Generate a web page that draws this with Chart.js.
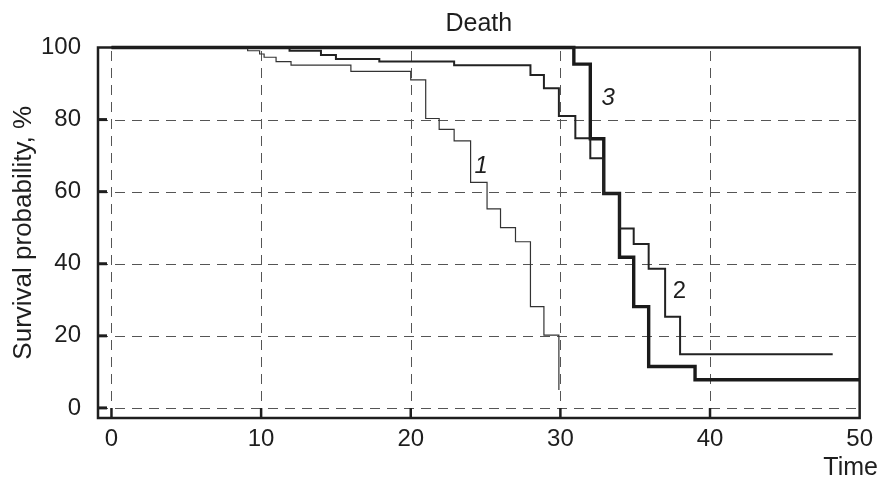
<!DOCTYPE html>
<html>
<head>
<meta charset="utf-8">
<script src="https://cdn.jsdelivr.net/npm/chart.js@4.4.0/dist/chart.umd.min.js"></script>
<style>
html,body{margin:0;padding:0;background:#fff;}
#wrap{width:880px;height:478px;}
</style>
</head>
<body>
<div id="wrap"><canvas id="c" width="880" height="478"></canvas></div>
<script>
// ---- data ----
const xTicks = [0, 10, 20, 30, 40, 50];
const yTicks = [0, 20, 40, 60, 80, 100];

const curve1Time = [0, 9.1, 9.9, 10.2, 11.0, 12.0, 16.0, 20.0, 21.0, 21.9, 22.9, 24.0, 25.1, 26.0, 27.0, 28.0, 28.9, 29.9];
const curve1Surv = [100, 99.1, 98.2, 97.3, 96.1, 95.1, 93.4, 91.0, 80.3, 77.3, 74.1, 62.6, 55.2, 50.0, 46.1, 28.1, 20.2, 5];

const curve2Time = [0, 11.9, 14.0, 15.0, 17.9, 22.9, 28.0, 28.9, 29.9, 31.0, 32.0, 32.9, 33.95, 34.9, 35.9, 37.0, 38.0, 48.2];
const curve2Surv = [100, 99.1, 97.9, 96.8, 96.1, 95.1, 92.4, 88.7, 81.0, 74.8, 69.3, 59.5, 49.8, 45.5, 38.6, 25.3, 14.9, 14.9];

const curve3Time = [0, 30.9, 32.0, 32.9, 33.95, 34.9, 35.9, 39.0, 50];
const curve3Surv = [100, 95.4, 74.7, 59.5, 41.8, 28.1, 11.5, 7.8, 7.8];

const curveNames = ['1', '2', '3'];
const curveLabelTime = [24.7, 37.95, 33.2];
const curveLabelSurv = [67.1, 32.2, 85.9];

// ---- styling ----
const FONT = "'Liberation Sans', Arial, Helvetica, sans-serif";
const INK = '#1e1e1e';

function pts(t, v) { return t.map((x, i) => ({x: x, y: v[i]})); }

const gridPlugin = {
  id: 'gridPlugin',
  beforeDatasetsDraw(chart) {
    const {ctx, chartArea: a, scales: {x, y}} = chart;
    ctx.save();
    ctx.strokeStyle = '#555';
    ctx.lineWidth = 1;
    ctx.setLineDash([10, 7]);
    xTicks.forEach(v => {
      if (v >= 50) return;
      const px = Math.round(x.getPixelForValue(v)) + 0.5;
      ctx.beginPath(); ctx.moveTo(px, a.bottom); ctx.lineTo(px, a.top); ctx.stroke();
    });
    yTicks.forEach(v => {
      if (v >= 100) return;
      const py = Math.round(y.getPixelForValue(v)) + 0.5;
      ctx.beginPath(); ctx.moveTo(a.left, py); ctx.lineTo(a.right, py); ctx.stroke();
    });
    ctx.restore();
  },
  afterDatasetsDraw(chart) {
    const {ctx, chartArea: a, scales: {x, y}} = chart;
    ctx.save();
    ctx.setLineDash([]);
    ctx.strokeStyle = INK;
    // tick marks (inward)
    ctx.lineWidth = 3;
    yTicks.forEach(v => {
      if (v >= 100) return;
      const py = y.getPixelForValue(v);
      ctx.beginPath(); ctx.moveTo(a.left, py); ctx.lineTo(a.left + 9, py); ctx.stroke();
    });
    ctx.lineWidth = 2.5;
    xTicks.forEach(v => {
      if (v >= 50) return;
      const px = x.getPixelForValue(v);
      ctx.beginPath(); ctx.moveTo(px, a.bottom); ctx.lineTo(px, a.bottom - 10); ctx.stroke();
    });
    // frame
    ctx.lineWidth = 2.5;
    ctx.strokeRect(a.left, a.top, a.right - a.left, a.bottom - a.top);
    // curve labels
    ctx.fillStyle = INK;
    ctx.textAlign = 'center';
    ctx.textBaseline = 'middle';
    curveNames.forEach((n, i) => {
      ctx.font = (n === '2' ? '' : 'italic ') + '24px ' + FONT;
      ctx.fillText(n, x.getPixelForValue(curveLabelTime[i]), y.getPixelForValue(curveLabelSurv[i]));
    });
    // x axis title
    ctx.font = '25px ' + FONT;
    ctx.textAlign = 'right';
    ctx.fillText('Time', chart.width - 2, 468);
    ctx.restore();
  }
};

const common = {stepped: 'before', pointRadius: 0, fill: false, clip: 6, tension: 0};

new Chart(document.getElementById('c'), {
  type: 'line',
  data: {
    datasets: [
      Object.assign({label: '1', data: pts(curve1Time, curve1Surv), borderColor: '#333', borderWidth: 1.2}, common),
      Object.assign({label: '2', data: pts(curve2Time, curve2Surv), borderColor: '#222', borderWidth: 2.0}, common),
      Object.assign({label: '3', data: pts(curve3Time, curve3Surv), borderColor: '#1a1a1a', borderWidth: 3.4}, common)
    ]
  },
  options: {
    responsive: false,
    animation: false,
    devicePixelRatio: 1,
    layout: {padding: {left: 0, right: 15.5, top: 0, bottom: 0}},
    plugins: {
      legend: {display: false},
      tooltip: {enabled: false},
      title: {
        display: true, text: 'Death', fullSize: false, color: INK,
        font: {family: FONT, size: 25, weight: 'normal'},
        padding: {top: 9, bottom: 8.5}
      }
    },
    scales: {
      x: {
        type: 'linear', min: -0.9, max: 50,
        afterBuildTicks(s) { s.ticks = xTicks.map(v => ({value: v})); },
        afterFit(s) { s.height = 60; },
        grid: {display: false, drawTicks: false},
        border: {display: false},
        ticks: {color: INK, padding: 7, maxRotation: 0, autoSkip: false, font: {family: FONT, size: 24}}
      },
      y: {
        type: 'linear', min: -2.8, max: 100,
        afterBuildTicks(s) { s.ticks = yTicks.map(v => ({value: v})); },
        afterFit(s) { s.width = 98; },
        grid: {display: false, drawTicks: false},
        border: {display: false},
        ticks: {color: INK, padding: 17, font: {family: FONT, size: 24}},
        title: {display: true, text: 'Survival probability, %', color: INK,
          font: {family: FONT, size: 26, weight: 'normal'}, padding: {top: 8, bottom: 0}}
      }
    }
  },
  plugins: [gridPlugin]
});
</script>
</body>
</html>
